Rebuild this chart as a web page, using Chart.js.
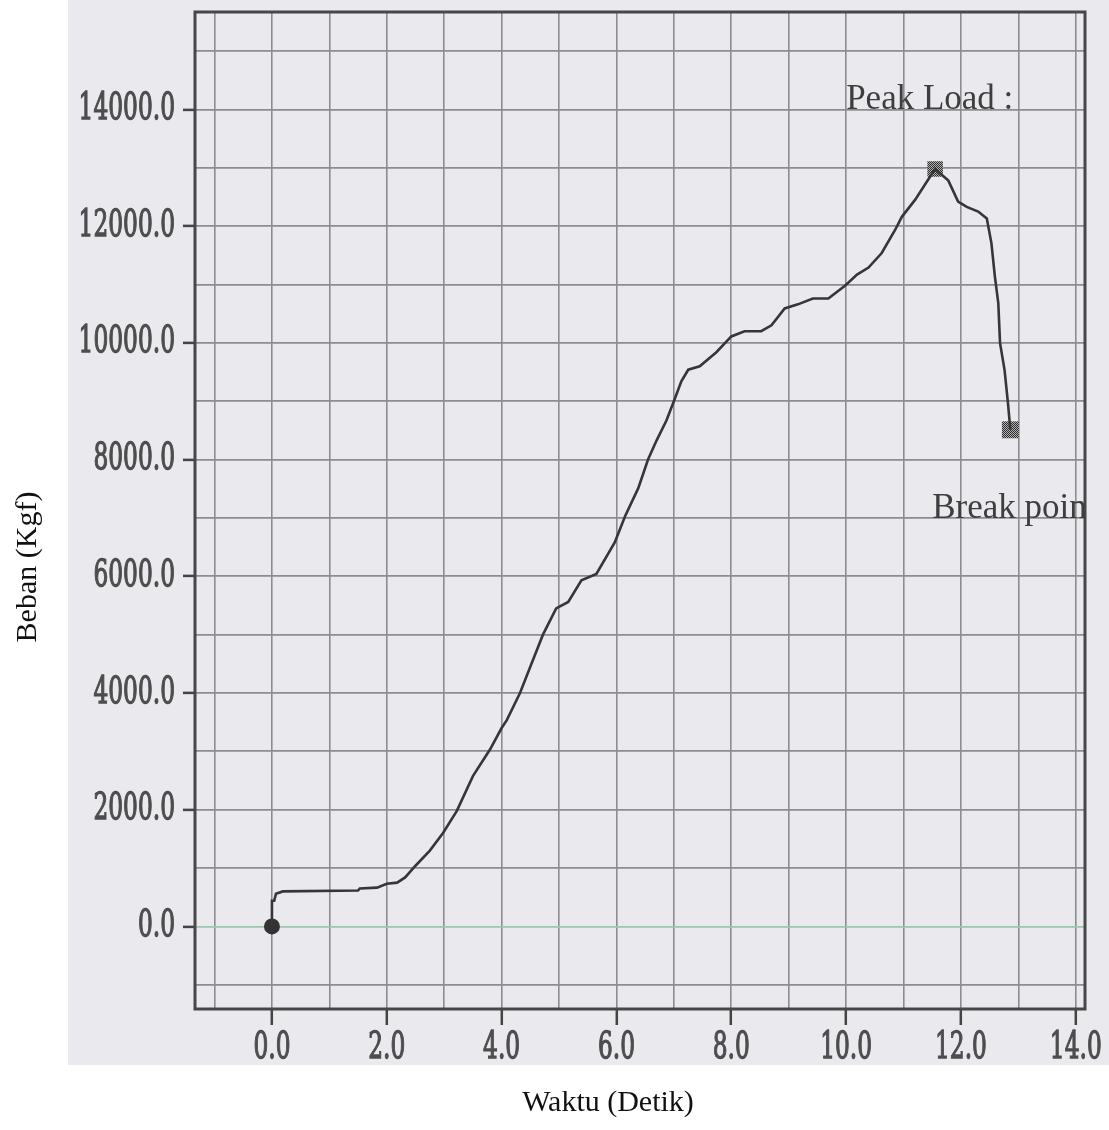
<!DOCTYPE html>
<html>
<head>
<meta charset="utf-8">
<script src="https://cdn.jsdelivr.net/npm/chart.js@4.4.1/dist/chart.umd.min.js"></script>
<style>
    html, body { margin: 0; padding: 0; background: #fff; }
    #wrap { position: relative; width: 1109px; height: 1130px; }
    #scan { position: absolute; left: 68px; top: 0; width: 1041px; height: 1065px; background: #e9e9ee; }
    #chart { position: absolute; left: 0; top: 0; }
</style>
</head>
<body>
<div id="wrap">
    <div id="scan"></div>
    <canvas id="chart" width="1109" height="1130"></canvas>
</div>
<script>
// load curve (time in s, load in kgf)
const times = [0, 0, 0.04, 0.07, 0.19, 1.5, 1.53, 1.83, 2.0, 2.18, 2.32, 2.5, 2.75, 2.98, 3.22, 3.5, 3.8, 4.0,
    4.09, 4.32, 4.52, 4.72, 4.95, 5.16, 5.39, 5.65, 5.97, 6.15, 6.38, 6.55, 6.7, 6.87, 7.0, 7.13, 7.25, 7.45,
    7.74, 8.0, 8.23, 8.52, 8.7, 8.93, 9.16, 9.42, 9.69, 9.98, 10.19, 10.39, 10.62, 10.85, 10.97, 11.2, 11.43,
    11.55, 11.78, 11.95, 12.1, 12.3, 12.45, 12.53, 12.59, 12.65, 12.68, 12.76, 12.82, 12.86];
const loads = [0, 440, 440, 560, 600, 615, 650, 665, 730, 750, 840, 1040, 1300, 1600, 1980, 2575, 3035, 3400,
    3535, 4000, 4500, 5000, 5450, 5560, 5930, 6040, 6580, 7030, 7510, 8000, 8330, 8670, 9000, 9340, 9540, 9600,
    9840, 10110, 10200, 10200, 10300, 10590, 10660, 10760, 10760, 10980, 11170, 11290, 11540, 11930, 12160, 12450, 12800,
    12980, 12780, 12420, 12330, 12250, 12130, 11710, 11140, 10680, 10000, 9530, 8950, 8510];

// start, peak load, break point
const markerTimes = [0, 11.55, 12.86];
const markerLoads = [0, 12980, 8510];

const xGridTicks = [-1, 0, 1, 2, 3, 4, 5, 6, 7, 8, 9, 10, 11, 12, 13, 14];
const yGridTicks = [-1000, 0, 1000, 2000, 3000, 4000, 5000, 6000, 7000, 8000, 9000, 10000, 11000, 12000, 13000, 14000, 15000];
const xLabelTicks = [0, 2, 4, 6, 8, 10, 12, 14];
const yLabelTicks = [0, 2000, 4000, 6000, 8000, 10000, 12000, 14000];

const noteTexts = ['Peak Load :', 'Break point'];
const noteTimes = [10.0, 11.5];
const noteLoads = [14000, 7000];

const canvas = document.getElementById('chart');
const ctx = canvas.getContext('2d');

// checkered fill for the square markers
function checker() {
    const c = document.createElement('canvas');
    c.width = 2; c.height = 2;
    const g = c.getContext('2d');
    g.fillStyle = '#b0b0b4';
    g.fillRect(0, 0, 2, 2);
    g.fillStyle = '#2e2e2e';
    g.fillRect(0, 0, 1, 1);
    g.fillRect(1, 1, 1, 1);
    return ctx.createPattern(c, 'repeat');
}
const hatch = checker();

// the plotter's digits are tall and narrow, so squeeze them horizontally
function narrowText(c, txt, px, py, align) {
    c.save();
    c.translate(px, py);
    c.scale(0.63, 1);
    c.textAlign = align;
    c.textBaseline = 'middle';
    c.fillText(txt, 0, 0);
    c.strokeText(txt, 0, 0);
    c.restore();
}

const frameAndText = {
    id: 'frameAndText',
    afterDatasetsDraw(chart) {
        const { ctx, chartArea: a, scales: { x, y } } = chart;
        ctx.save();
        ctx.strokeStyle = '#474747';
        ctx.lineWidth = 3;
        ctx.strokeRect(a.left, a.top, a.right - a.left, a.bottom - a.top);

        // tick labels
        ctx.font = "37px 'DejaVu Serif', serif";
        ctx.fillStyle = '#4d4d4d';
        ctx.strokeStyle = '#4d4d4d';
        ctx.lineWidth = 1.3;
        xLabelTicks.forEach(v => narrowText(ctx, v.toFixed(1), x.getPixelForValue(v), a.bottom + 39, 'center'));
        yLabelTicks.forEach(v => narrowText(ctx, v.toFixed(1), a.left - 20, y.getPixelForValue(v), 'right'));

        ctx.beginPath();
        ctx.rect(a.left, a.top, a.right - a.left, a.bottom - a.top);
        ctx.clip();
        ctx.font = "35px 'Liberation Serif', serif";
        ctx.fillStyle = '#3e3e3e';
        ctx.textBaseline = 'alphabetic';
        noteTexts.forEach((t, i) => {
            ctx.fillText(t, x.getPixelForValue(noteTimes[i]), y.getPixelForValue(noteLoads[i]));
        });
        ctx.restore();

        ctx.save();
        ctx.font = "30px 'Liberation Serif', serif";
        ctx.fillStyle = '#111';
        ctx.textAlign = 'center';
        ctx.textBaseline = 'middle';
        ctx.fillText('Waktu (Detik)', 608, 1103);
        ctx.translate(28, 567);
        ctx.rotate(-Math.PI / 2);
        ctx.fillText('Beban (Kgf)', 0, 0);
        ctx.restore();
    }
};

new Chart(ctx, {
    type: 'scatter',
    data: {
        datasets: [{
            data: times.map((t, i) => ({ x: t, y: loads[i] })),
            showLine: true,
            borderColor: '#363636',
            borderWidth: 2.6,
            pointRadius: 0,
            tension: 0
        }, {
            data: markerTimes.map((t, i) => ({ x: t, y: markerLoads[i] })),
            pointStyle: ['circle', 'rect', 'rect'],
            pointRadius: [8, 11, 12],
            backgroundColor: ['#333333', hatch, hatch],
            borderWidth: 0
        }]
    },
    options: {
        responsive: false,
        animation: false,
        layout: { padding: { top: 7, right: 24, left: 0, bottom: 0 } },
        plugins: {
            legend: { display: false },
            tooltip: { enabled: false }
        },
        scales: {
            x: {
                type: 'linear',
                min: -1.34,
                max: 14.16,
                afterBuildTicks: s => { s.ticks = xGridTicks.map(v => ({ value: v })); },
                afterFit: s => { s.height = 121; s.paddingLeft = 0; s.paddingRight = 0; },
                border: { display: false },
                grid: {
                    color: '#8c8c91',
                    lineWidth: 1.6,
                    tickLength: 16,
                    tickWidth: 2.5,
                    tickColor: c => xLabelTicks.includes(c.tick && c.tick.value) ? '#444' : 'rgba(0,0,0,0)'
                },
                ticks: { display: false }
            },
            y: {
                type: 'linear',
                min: -1415,
                max: 15670,
                afterBuildTicks: s => { s.ticks = yGridTicks.map(v => ({ value: v })); },
                afterFit: s => { s.width = 195; s.paddingTop = 0; s.paddingBottom = 0; },
                border: { display: false },
                grid: {
                    color: c => (c.tick && c.tick.value === 0) ? '#9fc4b2' : '#8c8c91',
                    lineWidth: 1.8,
                    tickLength: 12,
                    tickWidth: 2.5,
                    tickColor: c => yLabelTicks.includes(c.tick && c.tick.value) ? '#444' : 'rgba(0,0,0,0)'
                },
                ticks: { display: false }
            }
        }
    },
    plugins: [frameAndText]
});
</script>
</body>
</html>
